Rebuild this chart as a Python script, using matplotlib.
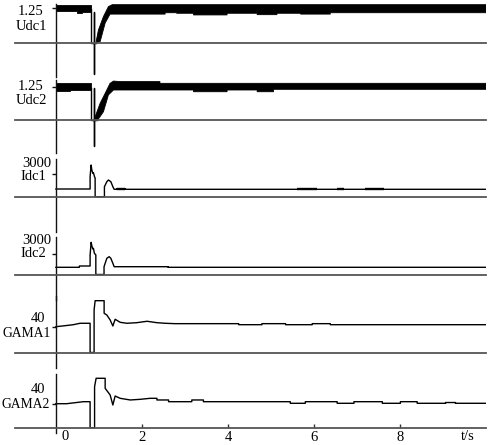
import matplotlib
matplotlib.use("Agg")
import matplotlib.pyplot as plt

plt.rcParams['font.family'] = ['Liberation Serif', 'DejaVu Serif']

# ---------------- data ----------------
# Udc1 (pu) : thick ripple band = upper / lower envelope
udc1_pre_up_t = [0.0, 0.81]
udc1_pre_up_v = [1.37, 1.37]
udc1_pre_lo_t = [0.0, 0.48, 0.48, 0.60, 0.60, 0.81]
udc1_pre_lo_v = [1.15, 1.15, 1.07, 1.07, 1.11, 1.11]
udc1_line_t = [0.81, 0.81, 0.885, 0.885, 0.885, 0.885, 0.936]
udc1_line_v = [1.20, 0.0, 0.0, 1.10, -1.13, 0.0, 0.0]
udc1_post_up_t = [0.936, 0.99, 1.106, 1.222, 1.31, 10.0]
udc1_post_up_v = [0.04, 0.46, 0.94, 1.30, 1.37, 1.37]
udc1_post_lo_t = [0.936, 1.03, 1.146, 1.26, 2.54, 2.54, 2.81, 2.81, 3.2, 3.2, 3.98, 3.98,
                  4.68, 4.68, 5.14, 5.14, 5.69, 5.69, 6.38, 6.38, 10.0]
udc1_post_lo_v = [0.0, 0.04, 0.71, 1.03, 1.03, 1.08, 1.08, 1.06, 1.06, 1.0, 1.0, 1.06,
                  1.06, 1.01, 1.01, 1.06, 1.06, 1.03, 1.03, 1.08, 1.08]

# Udc2 (pu)
udc2_pre_up_t = [0.0, 0.81]
udc2_pre_up_v = [1.40, 1.40]
udc2_pre_lo_t = [0.0, 0.33, 0.33, 0.81]
udc2_pre_lo_v = [1.10, 1.10, 1.14, 1.14]
udc2_line_t = [0.81, 0.81, 0.885, 0.885, 0.885, 0.885, 0.95]
udc2_line_v = [1.20, 0.0, 0.0, 1.21, -0.96, 0.0, 0.0]
udc2_post_up_t = [0.913, 1.03, 1.146, 1.26, 1.34, 1.495, 2.42, 2.42, 10.0]
udc2_post_up_v = [0.12, 0.63, 1.0, 1.375, 1.46, 1.44, 1.44, 1.375, 1.375]
udc2_post_lo_t = [0.913, 0.99, 1.106, 1.222, 1.34, 3.2, 3.2, 3.98, 3.98, 4.68, 4.68,
                  5.06, 5.06, 10.0]
udc2_post_lo_v = [0.0, 0.04, 0.31, 0.94, 1.125, 1.125, 1.06, 1.06, 1.125, 1.125, 1.06,
                  1.06, 1.15, 1.15]

# Idc1 (A)
idc1_t = [0.0, 0.796, 0.796, 0.82, 0.836, 0.859, 0.873, 0.901, 0.913, 0.913, 1.129, 1.129,
          1.185, 1.222, 1.278, 1.325, 1.355, 1.418, 1.418, 1.611, 1.611, 10.0]
idc1_v = [1018, 1018, 2643, 4190, 3530, 3090, 3170, 2600, 2470, 0, 0, 1322,
          1983, 2207, 1983, 1322, 978, 978, 1058, 1058, 978, 978]
idc1_thick_t0 = [1.418, 5.61, 6.54, 7.18]
idc1_thick_t1 = [1.611, 6.07, 6.69, 7.62]
idc1_thick_v = [1058, 1040, 1040, 1040]

# Idc2 (A)
idc2_t = [0.0, 0.547, 0.547, 0.796, 0.796, 0.82, 0.836, 0.859, 0.873, 0.896, 0.929, 0.929,
          1.12, 1.12, 1.185, 1.239, 1.278, 1.325, 1.355, 2.61, 2.61, 10.0]
idc2_v = [1064, 1064, 1256, 1256, 2882, 4759, 4256, 3769, 3872, 3133, 2900, 0,
          0, 1153, 2394, 2631, 2394, 1655, 1153, 1153, 1064, 1064]

# GAMA1 (deg)
gama1_t = [0.0, 0.22, 0.407, 0.563, 0.796, 0.796, 0.889, 0.889, 0.913, 1.122, 1.122, 1.185,
           1.262, 1.325, 1.378, 1.495, 1.65, 1.88, 2.12, 2.35, 2.54, 2.77, 4.25, 4.25,
           4.79, 4.79, 5.34, 5.34, 5.96, 5.96, 6.38, 6.38, 10.0]
gama1_v = [40.0, 41.6, 43.1, 45.3, 45.3, 0.0, 0.0, 65.9, 80.3, 80.3, 60.8, 58.1,
           50.4, 41.1, 51.5, 46.8, 45.3, 46.2, 48.4, 46.2, 45.3, 44.7, 44.7, 43.1,
           43.1, 44.7, 44.7, 43.1, 43.1, 44.7, 44.7, 43.1, 43.1]

# GAMA2 (deg)
gama2_t = [0.0, 0.25, 0.64, 0.796, 0.796, 0.90, 0.90, 0.936, 1.146, 1.146, 1.262, 1.325,
           1.378, 1.495, 1.73, 1.96, 2.19, 2.35, 2.35, 2.62, 2.62, 3.16, 3.16, 3.43, 3.43,
           5.45, 5.45, 5.80, 5.80, 6.54, 6.54, 6.93, 6.93, 7.59, 7.59, 8.01, 8.01, 8.40,
           8.40, 9.06, 9.06, 9.29, 9.29, 10.0]
gama2_v = [40.5, 40.5, 43.9, 43.9, 0.0, 0.0, 69.2, 83.4, 83.4, 66.5, 55.2, 38.3,
           53.5, 49.6, 46.8, 47.9, 49.6, 49.6, 46.8, 46.8, 43.9, 43.9, 46.8, 46.8, 43.9,
           43.9, 41.2, 41.2, 43.9, 43.9, 41.2, 41.2, 43.9, 43.9, 41.2, 41.2, 43.9, 43.9,
           41.2, 41.2, 42.5, 42.5, 41.2, 41.2]

xticks = [2, 4, 6, 8]
xlabels = ['2', '4', '6', '8']
panel_names = ['Udc1', 'Udc2', 'Idc1', 'Idc2', 'GAMA1', 'GAMA2']
tick_values = [1.25, 1.25, 3000, 3000, 40, 40]
tick_labels = ['1.25', '1.25', '3000', '3000', '40', '40']

# ---------------- layout ----------------
W, H = 488, 445
fig = plt.figure(figsize=(W / 100, H / 100), dpi=100)
XL, XR = 15, 486
# (top px, bottom px, baseline px, units per px)
geom = [
    (4, 77, 42.7, 1 / 27.76),
    (80, 153, 120.0, 1 / 26.67),
    (159, 232, 196.7, 132.2),
    (237, 300, 274.5, 147.8),
    (296, 368, 352.5, 1.55),
    (374, 433, 427.7, 1.688),
]

axes = []
for i, (top, bot, base, upp) in enumerate(geom):
    ax = fig.add_axes([XL / W, 1 - bot / H, (XR - XL) / W, (bot - top) / H])
    ax.set_xlim(-0.95, 10.0)
    ax.set_ylim(-(bot - base) * upp, (base - top) * upp)
    ax.patch.set_alpha(0)
    for s in ('top', 'right'):
        ax.spines[s].set_visible(False)
    ax.spines['left'].set_position(('data', 0))
    ax.spines['bottom'].set_position(('data', 0))
    ax.spines['left'].set_color('#111111')
    ax.spines['left'].set_linewidth(1.0)
    ax.spines['bottom'].set_color('#555555')
    ax.spines['bottom'].set_linewidth(1.3)
    ax.set_yticks([tick_values[i]])
    ax.set_yticklabels([])
    ax.tick_params(axis='y', direction='out', length=3, width=1.0, color='#111111')
    axes.append(ax)

for ax in axes[:-1]:
    ax.set_xticks([])
axb = axes[-1]
axb.set_xticks(xticks)
axb.set_xticklabels(xlabels)
axb.tick_params(axis='x', direction='in', length=3, width=1.0, pad=2.5, labelsize=10.5,
                color='#333333')


def band(ax, ut, uv, lt, lv):
    xs = list(ut) + list(lt)[::-1]
    ys = list(uv) + list(lv)[::-1]
    ax.fill(xs, ys, color='black', lw=0.6, ec='black')


lw = 1.0
# Udc1
band(axes[0], udc1_pre_up_t, udc1_pre_up_v, udc1_pre_lo_t, udc1_pre_lo_v)
band(axes[0], udc1_post_up_t, udc1_post_up_v, udc1_post_lo_t, udc1_post_lo_v)
axes[0].plot(udc1_line_t, udc1_line_v, color='black', lw=lw)
# Udc2
band(axes[1], udc2_pre_up_t, udc2_pre_up_v, udc2_pre_lo_t, udc2_pre_lo_v)
band(axes[1], udc2_post_up_t, udc2_post_up_v, udc2_post_lo_t, udc2_post_lo_v)
axes[1].plot(udc2_line_t, udc2_line_v, color='black', lw=lw)
# Idc1
axes[2].plot(idc1_t, idc1_v, color='black', lw=lw)
for a, b, v in zip(idc1_thick_t0, idc1_thick_t1, idc1_thick_v):
    axes[2].plot([a, b], [v, v], color='black', lw=1.7, solid_capstyle='butt')
# Idc2
axes[3].plot(idc2_t, idc2_v, color='black', lw=lw)
# GAMA
axes[4].plot(gama1_t, gama1_v, color='black', lw=lw)
axes[5].plot(gama2_t, gama2_v, color='black', lw=lw)

# ---------------- panel texts ----------------
fs = 10.5
name_fs = [10.5, 10.5, 10.5, 10.5, 9.8, 9.8]
# (value label x_right, y), (name x_right, y)
text_pos = [
    ((43.5, 11.7), (47.5, 26.7)),
    ((43.5, 86.0), (47.5, 100.0)),
    ((51.7, 163.3), (46.5, 176.7)),
    ((51.7, 240.0), (46.5, 253.3)),
    ((45.5, 318.3), (50.5, 333.3)),
    ((45.5, 389.3), (50.0, 404.3)),
]
for i, ((vx, vy), (nx, ny)) in enumerate(text_pos):
    fig.text(vx / W, 1 - vy / H, tick_labels[i], ha='right', va='center', fontsize=fs)
    fig.text(nx / W, 1 - ny / H, panel_names[i], ha='right', va='center',
             fontsize=name_fs[i])

fig.text(65 / W, 1 - 437 / H, '0', ha='center', va='center', fontsize=fs)
fig.text(468 / W, 1 - 437 / H, 't/s', ha='center', va='center', fontsize=fs)

fig.savefig('out.png', dpi=100)
